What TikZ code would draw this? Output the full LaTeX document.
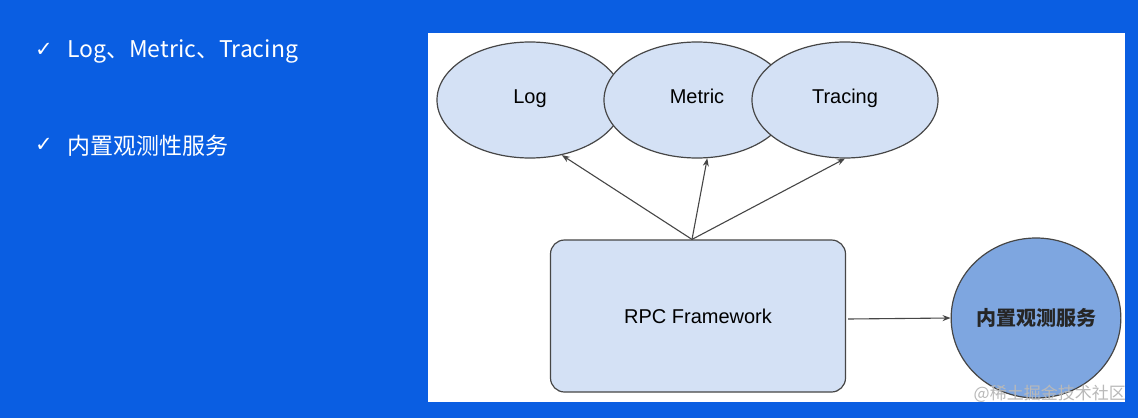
\documentclass[tikz,border=0pt]{standalone}
\usepackage{fontspec}
\setmainfont{Liberation Sans}
\newfontfamily\cjk{Noto Sans CJK SC}
\newfontfamily\symb{DejaVu Sans}
\usepackage{xcolor}
\usetikzlibrary{shapes.geometric, arrows.meta, positioning, calc}

\definecolor{slideblue}{RGB}{10,94,226}
\definecolor{nodefill}{RGB}{212,225,245}
\definecolor{svcfill}{RGB}{126,166,224}
\definecolor{edgegray}{RGB}{70,70,70}

\begin{document}
\begin{tikzpicture}[x=1pt, y=-1pt,
    oval/.style={ellipse, draw=edgegray, fill=nodefill, line width=1.2pt,
        minimum width=186pt, minimum height=116pt, inner sep=0pt,
        text height=1.5ex, text depth=0.3ex,
        font=\fontsize{20}{24}\selectfont},
    bullet/.style={anchor=west, text=white, inner sep=0pt,
        font=\cjk\fontsize{23}{28}\selectfont},
    tick/.style={anchor=east, text=white, inner sep=0pt,
        font=\symb\fontsize{21}{24}\selectfont},
    link/.style={-{Stealth[length=8pt,width=6pt]}, edgegray, line width=1.1pt}]
% Slide and white panel
\fill[slideblue] (0,0) rectangle (1138,418);
\fill[white] (428,33) rectangle (1125,402);
\useasboundingbox (0,0) rectangle (1138,418);

% Bullet points
\node[bullet] (b1) at (67,51) {Log、Metric、Tracing};
\node[bullet] (b2) at (67,146) {内置观测性服务};
\node[tick] (t1) at ($(b1.west)+(-14,-1)$) {✓};
\node[tick] (t2) at ($(b2.west)+(-14,-1)$) {✓};

% Observability ellipses
\foreach \name/\x/\txt in {log/530/Log, metric/697/Metric, tracing/845/Tracing} {
    \node[oval] (\name) at (\x,100) {\txt};
}

% Framework and built-in service
\node[draw=edgegray, fill=nodefill, line width=1.2pt, rounded corners=14pt,
    minimum width=295pt, minimum height=152pt,
    font=\fontsize{20}{24}\selectfont] (rpc) at (698,316) {RPC Framework};
\node[ellipse, draw=edgegray, fill=svcfill, line width=1.2pt, inner sep=0pt,
    minimum width=144pt, minimum height=160pt, text=black!85,
    font=\cjk\bfseries\fontsize{20}{24}\selectfont] (svc) at (1036,318) {内置观测服务};

% Arrows
\coordinate (fan) at ($(rpc.north)+(-6,0)$);
\draw[link] (fan) -- (log.-60);
\draw[link] (fan) -- (metric.-80);
\draw[link] (fan) -- (tracing.south);
\draw[link] ($(rpc.east)+(2,3)$) -- (svc.west);

% Watermark
\node[anchor=east, text=gray!55, inner sep=0pt,
    font=\cjk\fontsize{17}{20}\selectfont] (mark) at (1126,394) {@稀土掘金技术社区};
\end{tikzpicture}
\end{document}
